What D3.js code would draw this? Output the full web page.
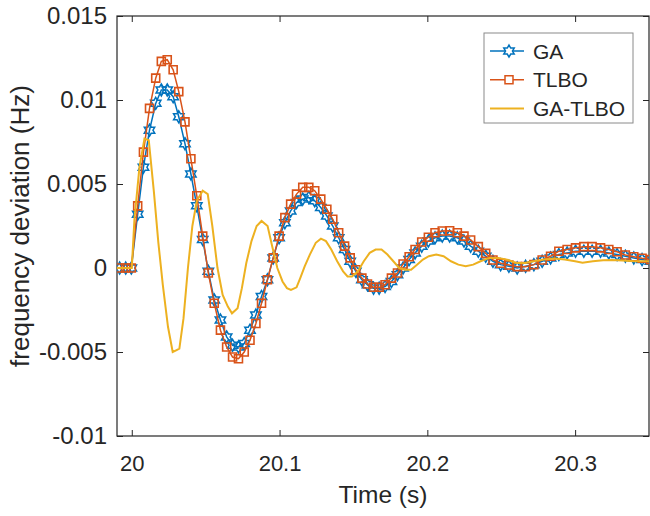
<!DOCTYPE html>
<html>
<head>
<meta charset="utf-8">
<script src="https://cdn.jsdelivr.net/npm/d3@7"></script>
<style>
  body { margin: 0; background: #fff; }
  text { font-family: "Liberation Sans", Arial, Helvetica, sans-serif; fill: #262626; }
</style>
</head>
<body>
<div id="chart-area"></div>
<script>
// time base of the GA / TLBO runs (s)
const timeGT = [19.9918, 19.9959, 19.9997, 20.0040, 20.0079, 20.0120, 20.0162, 20.0200, 20.0240, 20.0280,
  20.0318, 20.0360, 20.0400, 20.0440, 20.0480, 20.0518, 20.0558, 20.0600, 20.0642, 20.0682,
  20.0722, 20.0761, 20.0800, 20.0840, 20.0878, 20.0918, 20.0957, 20.0997, 20.1036, 20.1075,
  20.1115, 20.1157, 20.1198, 20.1238, 20.1279, 20.1320, 20.1360, 20.1400, 20.1440, 20.1478,
  20.1516, 20.1557, 20.1595, 20.1636, 20.1674, 20.1714, 20.1757, 20.1798, 20.1836, 20.1877,
  20.1917, 20.1962, 20.2007, 20.2052, 20.2101, 20.2151, 20.2203, 20.2248, 20.2293, 20.2345,
  20.2395, 20.2444, 20.2496, 20.2552, 20.2608, 20.2665, 20.2721, 20.2777, 20.2834, 20.2890,
  20.2946, 20.3003, 20.3059, 20.3115, 20.3172, 20.3228, 20.3284, 20.3340, 20.3397, 20.3453, 20.3510];

const gaValues = [0, 0, 0, 0.0032, 0.0060, 0.0082, 0.0098, 0.0106, 0.0106, 0.0102,
  0.0090, 0.0074, 0.0056, 0.0037, 0.0017, -0.0002, -0.0019, -0.0031, -0.0041, -0.0046,
  -0.0047, -0.0045, -0.0037, -0.0028, -0.0017, -0.0007, 0.0006, 0.0018, 0.0027, 0.0034,
  0.0039, 0.0041, 0.0042, 0.0040, 0.0036, 0.0031, 0.0025, 0.0018, 0.0011, 0.0004,
  -0.0002, -0.0007, -0.0010, -0.0012, -0.0012, -0.0011, -0.0008, -0.0004, 0.0000, 0.0005,
  0.0009, 0.0013, 0.0016, 0.0018, 0.0019, 0.0019, 0.0018, 0.0016, 0.0013, 0.0010,
  0.0007, 0.0004, 0.0002, 0.0001, 0.0000, 0.0001, 0.0002, 0.0004, 0.0006, 0.0008,
  0.0009, 0.0010, 0.0010, 0.0010, 0.0010, 0.0009, 0.0008, 0.0007, 0.0006, 0.0005, 0.0004];

const tlboValues = [0, 0, 0, 0.0037, 0.0069, 0.0095, 0.0113, 0.0123, 0.0124, 0.0118,
  0.0105, 0.0087, 0.0065, 0.0043, 0.0019, -0.0003, -0.0021, -0.0037, -0.0047, -0.0053,
  -0.0054, -0.0050, -0.0043, -0.0033, -0.0021, -0.0007, 0.0006, 0.0019, 0.0030, 0.0038,
  0.0044, 0.0048, 0.0048, 0.0046, 0.0041, 0.0035, 0.0029, 0.0021, 0.0013, 0.0006,
  -0.0001, -0.0006, -0.00095, -0.00115, -0.00115, -0.0010, -0.0006, -0.0003, 0.00024, 0.00067,
  0.0011, 0.00155, 0.00183, 0.0021, 0.0022, 0.00222, 0.0021, 0.0019, 0.00167, 0.00127,
  0.00087, 0.00048, 0.00028, 0.00018, 0.00008, 0.00008, 0.0002, 0.00048, 0.0007, 0.0010,
  0.0011, 0.0012, 0.00127, 0.00127, 0.0012, 0.0011, 0.00097, 0.00077, 0.00067, 0.00058, 0.0005];

// time base of the GA-TLBO run (s)
const timeHybrid = [19.990, 19.995, 20.000, 20.0018, 20.0052, 20.0086, 20.0115, 20.0150, 20.0180, 20.0210,
  20.0245, 20.0277, 20.0300, 20.0322, 20.0350, 20.0380, 20.0410, 20.0440, 20.0480, 20.0514,
  20.0545, 20.0580, 20.0615, 20.0650, 20.0678, 20.0716, 20.0745, 20.0775, 20.0810, 20.0845,
  20.0878, 20.0919, 20.0950, 20.0985, 20.1020, 20.1050, 20.1077, 20.1115, 20.1140, 20.1170,
  20.1205, 20.1245, 20.1280, 20.1314, 20.1350, 20.1390, 20.1430, 20.1460, 20.1490, 20.1530,
  20.1570, 20.1610, 20.1650, 20.1690, 20.1730, 20.1770, 20.1810, 20.1850, 20.1890, 20.1930,
  20.1970, 20.2010, 20.2060, 20.2110, 20.2160, 20.2210, 20.2260, 20.2310, 20.2360, 20.2420,
  20.2480, 20.2540, 20.2600, 20.2660, 20.2720, 20.2790, 20.2860, 20.2930, 20.3000, 20.3050,
  20.3120, 20.3190, 20.3250, 20.3320, 20.3400, 20.3500];

const hybridValues = [0, 0, 0, 0.0029, 0.0060, 0.0077, 0.0076, 0.0045, 0.0015, -0.0010,
  -0.0035, -0.0050, -0.0049, -0.0048, -0.0030, 0.0000, 0.0025, 0.0040, 0.0046, 0.0044,
  0.0025, 0.0000, -0.0016, -0.0023, -0.0027, -0.0024, -0.0012, 0.0003, 0.0016, 0.0025,
  0.0028, 0.0025, 0.0013, 0.0000, -0.0008, -0.0012, -0.0013, -0.00115, -0.0006, 0.0001,
  0.0008, 0.0015, 0.00175, 0.0016, 0.0011, 0.0004, -0.0002, -0.0005, -0.0005, -0.0002,
  0.0004, 0.0009, 0.0011, 0.0011, 0.0008, 0.0004, 0.0000, -0.0001, -0.0001, 0.0002,
  0.0005, 0.0007, 0.0008, 0.0007, 0.0004, 0.0002, 0.0001, 0.0002, 0.0004, 0.0006,
  0.0006, 0.0005, 0.0003, 0.0003, 0.0004, 0.0005, 0.00057, 0.0005, 0.0004, 0.00032,
  0.0004, 0.00046, 0.00048, 0.00045, 0.0004, 0.0004];

const seriesNames = ["GA", "TLBO", "GA-TLBO"];
const xTicks = [20, 20.1, 20.2, 20.3];
const xTickLabels = ["20", "20.1", "20.2", "20.3"];
const yTicks = [-0.01, -0.005, 0, 0.005, 0.01, 0.015];
const yTickLabels = ["-0.01", "-0.005", "0", "0.005", "0.01", "0.015"];

const colors = { "GA": "#0072BD", "TLBO": "#D95319", "GA-TLBO": "#EDB120" };

let margin = { left: 117, right: 1, top: 16, bottom: 80 };
let W = 650, H = 516;
let width = W - margin.left - margin.right,
    height = H - margin.top - margin.bottom;

let svg = d3.select("#chart-area")
  .append("svg")
    .attr("width", W)
    .attr("height", H);

let g = svg.append("g")
  .attr("transform", `translate(${margin.left}, ${margin.top})`);

let x = d3.scaleLinear().domain([19.99, 20.35]).range([0, width]);
let y = d3.scaleLinear().domain([-0.01, 0.015]).range([height, 0]);

g.append("clipPath").attr("id", "plot-clip")
  .append("rect").attr("x", 0).attr("y", 0).attr("width", width).attr("height", height);

// axes, ticks point inward
let tick = 6;
g.append("g").attr("class", "x axis")
  .attr("transform", `translate(0, ${height})`)
  .call(d3.axisBottom(x).tickValues(xTicks).tickSizeInner(-tick).tickSizeOuter(0).tickPadding(19)
    .tickFormat((d, i) => xTickLabels[i]));
g.append("g").attr("class", "x axis top")
  .call(d3.axisTop(x).tickValues(xTicks).tickSizeInner(-tick).tickSizeOuter(0).tickFormat(""));
g.append("g").attr("class", "y axis")
  .call(d3.axisLeft(y).tickValues(yTicks).tickSizeInner(-tick).tickSizeOuter(0).tickPadding(10)
    .tickFormat((d, i) => yTickLabels[i]));
g.append("g").attr("class", "y axis right")
  .attr("transform", `translate(${width}, 0)`)
  .call(d3.axisRight(y).tickValues(yTicks).tickSizeInner(-tick).tickSizeOuter(0).tickFormat(""));

g.selectAll(".axis path").remove();
g.selectAll(".axis line").attr("stroke", "#262626");
g.selectAll(".x.axis text").attr("font-size", "22px").attr("fill", "#262626");
g.selectAll(".y.axis text").attr("font-size", "24px").attr("fill", "#262626");

g.append("rect")
  .attr("width", width).attr("height", height)
  .attr("fill", "none").attr("stroke", "#262626").attr("stroke-width", 1.2);

// labels
g.append("text")
  .attr("x", width / 2).attr("y", height + 67)
  .attr("font-size", "24.5px").attr("text-anchor", "middle")
  .text("Time (s)");
g.append("text")
  .attr("transform", "rotate(-90)")
  .attr("x", -height / 2).attr("y", -88)
  .attr("font-size", "26px").attr("text-anchor", "middle")
  .text("frequency deviation (Hz)");

// six-point star marker
function hexagram(r) {
  let pts = [];
  for (let k = 0; k < 12; k++) {
    let a = -Math.PI / 2 + k * Math.PI / 6;
    let rr = k % 2 === 0 ? r : r / Math.sqrt(3);
    pts.push([rr * Math.cos(a), rr * Math.sin(a)]);
  }
  return "M" + pts.map(p => p.join(",")).join("L") + "Z";
}
const starPath = hexagram(6);
const squarePath = d3.symbol(d3.symbolSquare, 64)();

let line = d3.line().x(d => x(d[0])).y(d => y(d[1]));

let plot = g.append("g").attr("clip-path", "url(#plot-clip)");

let gaData = timeGT.map((t, i) => [t, gaValues[i]]);
let tlboData = timeGT.map((t, i) => [t, tlboValues[i]]);
let hybridData = timeHybrid.map((t, i) => [t, hybridValues[i]]);

// GA
plot.append("path").datum(gaData)
  .attr("d", line).attr("fill", "none")
  .attr("stroke", colors["GA"]).attr("stroke-width", 1.5);
plot.selectAll(".ga-mark").data(gaData).enter()
  .append("path").attr("class", "ga-mark")
  .attr("d", starPath)
  .attr("transform", d => `translate(${x(d[0])}, ${y(d[1])})`)
  .attr("fill", "none").attr("stroke", colors["GA"]).attr("stroke-width", 1.5);

// TLBO
plot.append("path").datum(tlboData)
  .attr("d", line).attr("fill", "none")
  .attr("stroke", colors["TLBO"]).attr("stroke-width", 1.5);
plot.selectAll(".tlbo-mark").data(tlboData).enter()
  .append("path").attr("class", "tlbo-mark")
  .attr("d", squarePath)
  .attr("transform", d => `translate(${x(d[0])}, ${y(d[1])})`)
  .attr("fill", "none").attr("stroke", colors["TLBO"]).attr("stroke-width", 1.6);

// GA-TLBO
plot.append("path").datum(hybridData)
  .attr("d", line).attr("fill", "none")
  .attr("stroke", colors["GA-TLBO"]).attr("stroke-width", 2);

// legend
let legend = svg.append("g").attr("transform", "translate(484, 33)");
legend.append("rect")
  .attr("width", 149).attr("height", 90)
  .attr("fill", "#fff").attr("stroke", "#8a8a8a").attr("stroke-width", 1);

let rows = legend.selectAll(".row").data(seriesNames).enter()
  .append("g").attr("class", "row")
  .attr("transform", (d, i) => `translate(0, ${18 + i * 28.8})`);
rows.append("line")
  .attr("x1", 6).attr("x2", 40).attr("y1", 0).attr("y2", 0)
  .attr("stroke", d => colors[d]).attr("stroke-width", d => d === "GA-TLBO" ? 2 : 1.5);
rows.filter(d => d !== "GA-TLBO").append("path")
  .attr("d", d => d === "GA" ? starPath : squarePath)
  .attr("transform", "translate(25, 0)")
  .attr("fill", "#fff")
  .attr("stroke", d => colors[d]).attr("stroke-width", 1.5);
rows.append("text")
  .attr("x", 49).attr("y", 0).attr("dy", "0.36em")
  .attr("font-size", "21px").attr("fill", "#000")
  .text(d => d);
</script>
</body>
</html>
